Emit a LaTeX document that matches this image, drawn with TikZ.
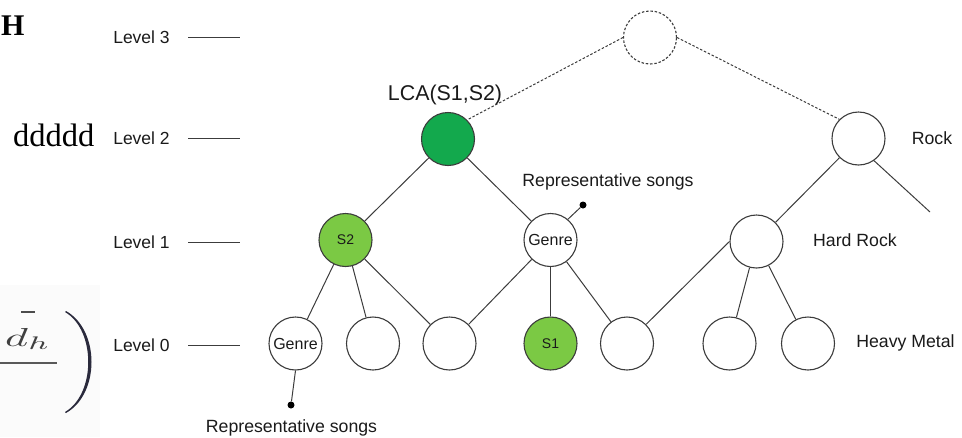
\documentclass[tikz,border=0pt]{standalone}
\usepackage{fontspec}
\setmainfont{Liberation Sans}
\newfontfamily\serifH{Liberation Serif}
\definecolor{dkgreen}{HTML}{13A94D}
\definecolor{ltgreen}{HTML}{7BC944}
\definecolor{edgegray}{HTML}{3C3C3C}
\definecolor{txt}{HTML}{1A1A1A}
\definecolor{boxgray}{HTML}{FBFBFB}
\definecolor{parcol}{HTML}{2A2A3C}
\begin{document}
\begin{tikzpicture}[x=1pt,y=-1pt,
  nd/.style={circle,draw=edgegray,line width=1.1pt,minimum size=53pt,inner sep=0pt,text=txt},
  dnd/.style={nd,dashed,dash pattern=on 2.5pt off 1.8pt},
  lvl/.style={text=txt,font=\fontsize{17.5}{20}\selectfont,inner sep=0pt},
  lab/.style={text=txt,font=\fontsize{17.7}{20}\selectfont,inner sep=0pt},
  edge/.style={draw=edgegray,line width=1pt},
  dedge/.style={edge,dash pattern=on 2.5pt off 1.8pt},
  dot/.style={circle,fill=black,minimum size=7pt,inner sep=0pt},
  small/.style={font=\fontsize{14}{16}\selectfont},
  gen/.style={font=\fontsize{16}{18}\selectfont}]
\useasboundingbox (0,0) rectangle (962,437);
\fill[boxgray] (0,285) rectangle (100,437);
% left-over text
\node[anchor=base west,inner sep=0pt,text=black,font=\serifH\bfseries\fontsize{30}{32}\selectfont] (H) at (1,35) {H};
\node[anchor=base west,inner sep=0pt,text=black,font=\serifH\fontsize{32.5}{34}\selectfont] (dd) at (13,146.5) {ddddd};
\node[anchor=base west,inner sep=0pt,text=black!75] (dh) at (5,346) {\scalebox{4.4}[2.6]{$d_h$}};
\draw[black!70,line width=1.3pt] (21,312) coordinate (bl) -- (35,312) coordinate (br);
\draw[black!65,line width=1.3pt] (0,363) coordinate (fl) -- (57,363) coordinate (fr);
\fill[parcol] (65,312) .. controls (96,330) and (96,394) .. (65,412)
   -- (66,413) .. controls (100,394) and (100,330) .. (66,311) -- cycle;
% level labels
\node[lvl] (l3) at (141.5,37) {Level 3};
\node[lvl] (l2) at (141.5,138) {Level 2};
\node[lvl] (l1) at (141.5,242) {Level 1};
\node[lvl] (l0) at (141.5,345) {Level 0};
\foreach \n/\y in {3/37,2/138,1/242,0/345}{
  \coordinate (a\n) at (188,\y); \coordinate (b\n) at (240,\y);
  \draw[edge] (a\n) -- (b\n);
}
% nodes
\node[dnd] (top) at (650,37.5) {};
\node[nd,fill=dkgreen] (lca) at (448,139) {};
\node[nd] (rock) at (858.5,138.5) {};
\node[nd,fill=ltgreen,small] (s2) at (345.5,240) {S2};
\node[nd,gen] (g1) at (550.5,240) {Genre};
\node[nd] (hr) at (756.5,241.5) {};
\node[nd,gen] (g0) at (295.5,343.5) {Genre};
\node[nd] (n2) at (373,343.5) {};
\node[nd] (n3) at (449.5,343.5) {};
\node[nd,fill=ltgreen,small] (s1) at (550.5,343.5) {S1};
\node[nd] (n5) at (627,343.5) {};
\node[nd] (n6) at (729.5,343.5) {};
\node[nd] (n7) at (808,343.5) {};
% labels
\node[text=txt,font=\fontsize{21.4}{24}\selectfont,inner sep=0pt] (lcal) at (445,95) {LCA(S1,S2)};
\node[lab] (rockl) at (932,138) {Rock};
\node[lab] (hrl) at (855,240) {Hard Rock};
\node[lab] (hml) at (905.5,343) {Heavy Metal};
\node[lab] (rs1) at (608,182) {Representative songs};
\node[lab] (rs0) at (291.5,428) {Representative songs};
\node[dot] (d1) at (583,205) {};
\node[dot] (d0) at (291,405) {};
\coordinate (free) at (930,212);
% edges
\draw[dedge] (top.west) -- (lca.north east);
\draw[dedge] (top.east) -- (rock.north west);
\draw[edge] (lca) -- (s2);
\draw[edge] (lca) -- (g1);
\draw[edge] (rock) -- (hr);
\draw[edge] (rock.-55) -- (free);
\draw[edge] (s2) -- (g0);
\draw[edge] (s2) -- (n2);
\draw[edge] (s2) -- (n3);
\draw[edge] (g1) -- (n3.north east);
\draw[edge] (g1) -- (s1);
\draw[edge] (g1) -- (n5);
\draw[edge] (hr.west) -- (n5.north east);
\draw[edge] (hr) -- (n6);
\draw[edge] (hr) -- (n7);
\draw[edge] (g1.50) -- (d1);
\draw[edge] (g0.south) -- (d0);
\end{tikzpicture}
\end{document}
